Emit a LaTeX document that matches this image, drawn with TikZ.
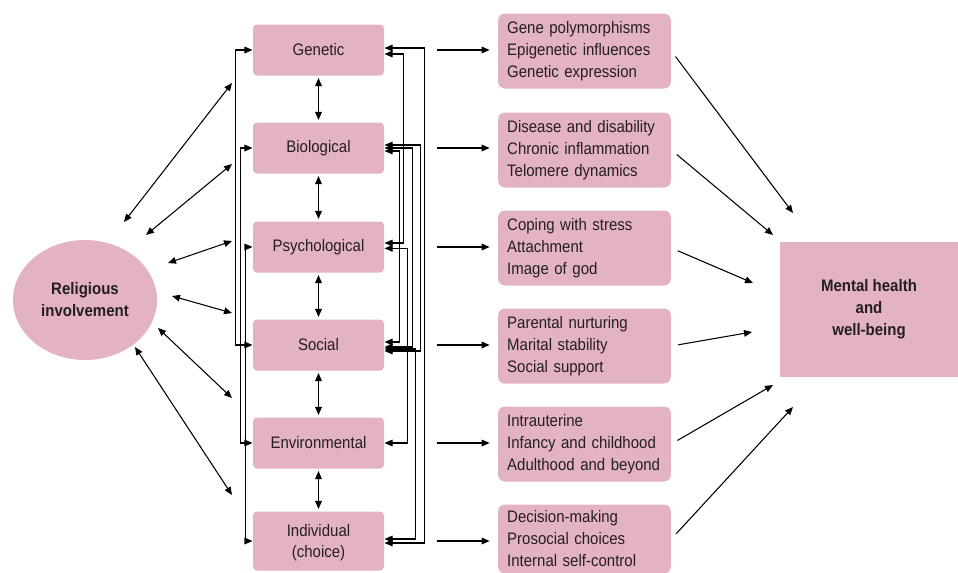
\documentclass[tikz,border=0pt]{standalone}
\usepackage{fontspec}
\setmainfont{Liberation Sans}[FakeStretch=0.9]
\usetikzlibrary{arrows.meta,shapes,positioning}
\definecolor{boxpink}{RGB}{228,179,193}
\definecolor{inkgray}{RGB}{35,31,32}

\begin{document}
\begin{tikzpicture}[x=0.75pt, y=-0.75pt, line width=0.8pt,
		>={Triangle[length=6pt,width=5pt]},
		every node/.style={font=\fontsize{12.5}{16.5}\selectfont, text=inkgray},
		hub/.style={ellipse, fill=boxpink, minimum width=108pt, minimum height=90pt,
			align=center, font=\fontsize{12.5}{16.5}\selectfont\bfseries},
		factor/.style={rectangle, rounded corners=3pt, fill=boxpink, minimum width=98.25pt,
			minimum height=38.25pt, align=center, inner sep=0pt},
		effect/.style={rectangle, rounded corners=5pt, fill=boxpink, text width=116pt,
			minimum height=56.25pt, inner xsep=6.75pt, inner ysep=0pt, align=left},
		outcome/.style={rectangle, fill=boxpink, minimum width=133.5pt, minimum height=101.25pt,
			align=center, font=\fontsize{12.5}{16.5}\selectfont\bfseries}]
		\useasboundingbox (0,0) rectangle (958,572);
		% left hub
		\node[hub](religion) at (85,300) {Religious\\involvement};
		% middle column
		\node[factor](genetic) at (318.5,50) {Genetic};
		\node[factor](biological) at (318.5,148) {Biological};
		\node[factor](psychological) at (318.5,247) {Psychological};
		\node[factor](social) at (318.5,345) {Social};
		\node[factor](environmental) at (318.5,443) {Environmental};
		\node[factor, minimum height=44.25pt, text depth=0pt](individual) at (318.5,541)
			{Individual\\[-0.75pt](choice)};
		% right column
		\node[effect](genetic-fx) at (584.5,51)
			{Gene polymorphisms\\Epigenetic influences\\Genetic expression};
		\node[effect](biological-fx) at (584.5,150)
			{Disease and disability\\Chronic inflammation\\Telomere dynamics};
		\node[effect](psychological-fx) at (584.5,248)
			{Coping with stress\\Attachment\\Image of god};
		\node[effect](social-fx) at (584.5,346)
			{Parental nurturing\\Marital stability\\Social support};
		\node[effect](environmental-fx) at (584.5,444)
			{Intrauterine\\Infancy and childhood\\Adulthood and beyond};
		\node[effect, minimum height=51.75pt](individual-fx) at (584.5,539)
			{Decision-making\\Prosocial choices\\Internal self-control};
		\node[outcome](mental) at (869,309.5) {Mental health\\and\\well-being};

		% free ends
		\coordinate (r1) at (124,222); \coordinate (l1) at (232,83);
		\coordinate (r2) at (146,235); \coordinate (l2) at (232,164);
		\coordinate (r3) at (168,263); \coordinate (l3) at (232,241);
		\coordinate (r4) at (172,296); \coordinate (l4) at (232,313);
		\coordinate (r5) at (158,328); \coordinate (l5) at (232,398);
		\coordinate (r6) at (135,347); \coordinate (l6) at (232,495);
		\coordinate (m1) at (793,213);
		\coordinate (m2) at (773,235);
		\coordinate (m3) at (753,283);
		\coordinate (m4) at (752,332);
		\coordinate (m5) at (773,385);
		\coordinate (m6) at (793,407);

		\foreach \i in {1,...,6}
			\draw[<->] (r\i) -- (l\i);

		\path[<->, shorten <=1.5pt, shorten >=1.5pt]
		(genetic) edge (biological)
		(biological) edge (psychological)
		(psychological) edge (social)
		(social) edge (environmental)
		(environmental) edge (individual)
		;

		% left brackets
		\draw[<->] (genetic.west) -- ++(-17,0) |- (social.west);
		\draw[<->] (biological.west) -- ++(-12,0) |- (environmental.west);
		\draw[<->] (psychological.west) -- ++(-7,0) |- (individual.west);

		% right brackets
		\draw[<->] ([yshift=1.5pt]genetic.east) -- ++(40,0) |- ([yshift=-1.5pt]individual.east);
		\draw[<->] ([yshift=-3pt]genetic.east) -- ++(19,0) |- ([yshift=3pt]psychological.east);
		\draw[<->] ([yshift=2.25pt]biological.east) -- ++(36,0) |- ([yshift=-4.5pt]social.east);
		\draw[<->] (biological.east) -- ++(28,0) |- ([yshift=-1.5pt]social.east);
		\draw[<->] ([yshift=-2.25pt]biological.east) -- ++(15,0) |- ([yshift=2.25pt]social.east);
		\draw[<->] ([yshift=-1pt]psychological.east) -- ++(23,0) |- (environmental.east);
		\draw[<->] ([yshift=-3pt]social.east) -- ++(31,0) |- ([yshift=1.5pt]individual.east);

		\foreach \n in {genetic,biological,psychological,social,environmental,individual}
			\draw[->, shorten <=39pt, shorten >=6pt] (\n.east) -- (\n.east -| \n-fx.west);

		\foreach \n/\m in {genetic/m1,biological/m2,psychological/m3,social/m4,environmental/m5,individual/m6}
			\draw[->, shorten <=5.25pt] (\n-fx.east) -- (\m);
	\end{tikzpicture}
\end{document}
